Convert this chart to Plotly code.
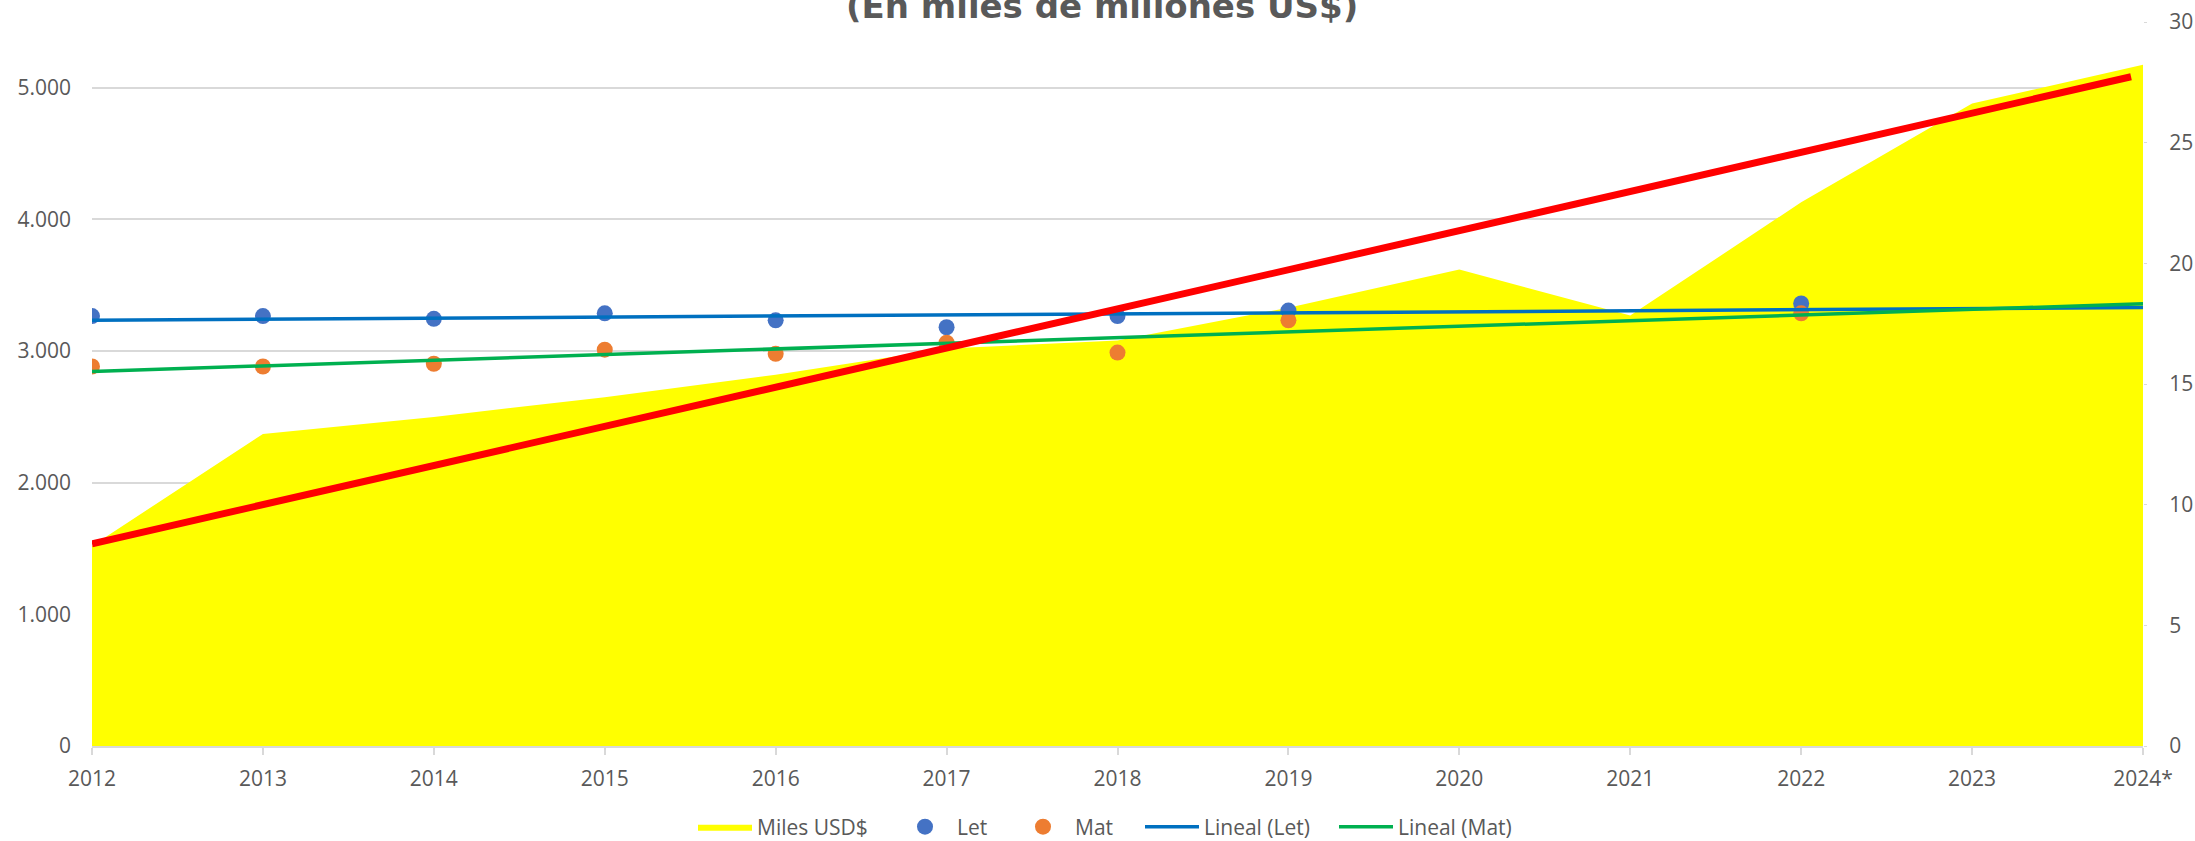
import numpy as np
import plotly.graph_objects as go

# data
years = [2012, 2013, 2014, 2015, 2016, 2017, 2018, 2019, 2020, 2021, 2022, 2023, 2024]
year_labels = ["2012", "2013", "2014", "2015", "2016", "2017", "2018",
               "2019", "2020", "2021", "2022", "2023", "2024*"]
miles_usd = [1520, 2370, 2500, 2650, 2820, 3020, 3080, 3330, 3620, 3270, 4130, 4880, 5175]
let_scores = [3266, 3266, 3245, 3287, 3234, 3181, 3266, 3308, None, None, 3362, None, None]
mat_scores = [2883, 2883, 2904, 3011, 2979, 3064, 2989, 3234, None, None, 3287, None, None]
# hand drawn red line (start / end)
red_x = [2012, 2023.93]
red_y = [1536, 5084]

grey = "#595959"
grid = "#D9D9D9"

# plot area in page pixels
W, H = 2195, 841
PL, PR, PT, PB = 92, 2143, 22, 746


def linear_trend(xs, ys):
    pts = [(x, y) for x, y in zip(xs, ys) if y is not None]
    px_, py_ = zip(*pts)
    m, b = np.polyfit(px_, py_, 1)
    return [m * xs[0] + b, m * xs[-1] + b]


def legend_x(page_x):
    return (page_x - PL) / (PR - PL)


fig = go.Figure()

fig.add_trace(go.Scatter(
    x=years, y=miles_usd, name="Miles USD$",
    mode="lines", line=dict(width=0, color="#FFFF00"),
    fill="tozeroy", fillcolor="#FFFF00", legend="legend"
))
fig.add_trace(go.Scatter(
    x=years, y=let_scores, name="Let", mode="markers",
    marker=dict(color="#4472C4", size=16), legend="legend2"
))
fig.add_trace(go.Scatter(
    x=years, y=mat_scores, name="Mat", mode="markers",
    marker=dict(color="#ED7D31", size=16), legend="legend3"
))
fig.add_trace(go.Scatter(
    x=[years[0], years[-1]], y=linear_trend(years, let_scores),
    name="Lineal (Let)", mode="lines",
    line=dict(color="#0070C0", width=3.5), legend="legend4"
))
fig.add_trace(go.Scatter(
    x=[years[0], years[-1]], y=linear_trend(years, mat_scores),
    name="Lineal (Mat)", mode="lines",
    line=dict(color="#00B050", width=3.5), legend="legend5"
))
fig.add_trace(go.Scatter(
    x=red_x, y=red_y, mode="lines", showlegend=False,
    line=dict(color="#FF0000", width=7)
))
# secondary axis (0-30), no data of its own
fig.add_trace(go.Scatter(x=[years[0]], y=[0], yaxis="y2", mode="markers",
                         marker=dict(opacity=0), showlegend=False,
                         hoverinfo="skip"))

fig.add_annotation(
    text="<b>(En miles de millones US$)</b>",
    xref="paper", yref="paper", x=0.4925, y=1, yshift=-6,
    xanchor="center", yanchor="bottom", showarrow=False,
    font=dict(family="DejaVu Sans", size=34, color=grey)
)

leg_common = dict(orientation="h", yref="container", y=1 - 827 / H,
                  yanchor="middle", xanchor="left",
                  font=dict(size=21, color=grey), itemwidth=54,
                  bgcolor="rgba(0,0,0,0)")
legends = {}
for key, start in zip(["legend", "legend2", "legend3", "legend4", "legend5"],
                      [693, 893, 1011, 1140, 1334]):
    legends[key] = dict(leg_common, x=legend_x(start))

fig.update_layout(
    width=W, height=H,
    margin=dict(l=PL, r=W - PR, t=PT, b=H - PB, autoexpand=False),
    paper_bgcolor="white", plot_bgcolor="white",
    separators=",.",
    font=dict(family="Open Sans", size=21, color=grey),
    showlegend=True,
    xaxis=dict(range=[2012, 2024], tickvals=years, ticktext=year_labels,
               showgrid=False, zeroline=False, showline=True,
               linecolor=grid, linewidth=2, ticks="outside", ticklen=7,
               tickcolor=grid, tickwidth=2, ticklabelstandoff=6),
    yaxis=dict(range=[0, 5500], dtick=1000, tickformat=",d",
               showgrid=True, gridcolor=grid, gridwidth=2,
               zeroline=False, showline=False, ticks="",
               ticklabelstandoff=20),
    yaxis2=dict(range=[0, 30], dtick=5, overlaying="y", side="right",
                showgrid=False, zeroline=False, showline=False,
                ticks="outside", ticklen=3, tickcolor=grid,
                ticklabelstandoff=18),
    **legends
)

fig.write_html("out.html", config={"displayModeBar": False},
               post_script="document.body.style.margin='0';")
